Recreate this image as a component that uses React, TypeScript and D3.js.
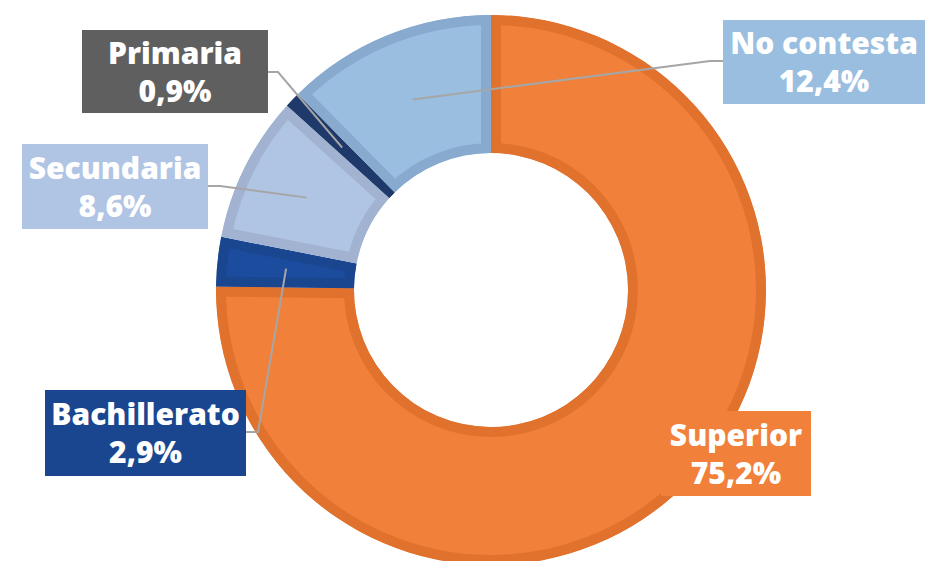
import React from "react";
import * as d3 from "d3";

const categories = ["Superior", "Bachillerato", "Secundaria", "Primaria", "No contesta"];
const values = [75.2, 2.9, 8.6, 0.9, 12.4];
const valueLabels = ["75,2%", "2,9%", "8,6%", "0,9%", "12,4%"];

const fills = ["#F0803A", "#1C4C9E", "#B0C4E4", "#1F3A6A", "#99BEE0"];
const borders = ["#E0722E", "#1A4690", "#A2B3D2", "#1F3A6A", "#88AACF"];
const boxFills = ["#F0803A", "#1A4690", "#B0C4E4", "#5F5F5F", "#99BEE0"];

// label box layout [x, y, w, h] and leader elbow [x, y]
const boxes: [number, number, number, number][] = [
  [661, 411, 150, 85],
  [45, 390, 201, 86],
  [22, 144, 186, 85],
  [82, 30, 186, 83],
  [723, 20, 202, 84],
];
const elbows: ([number, number] | null)[] = [null, [258, 432], [220, 186], [278, 72], [710, 61]];

export default function App() {
  const W = 947, H = 561;
  const cx = 491, cy = 290, R = 275, r = 137, bw = 10;
  const pie = d3.pie<number>().sort(null).startAngle(0).endAngle(2 * Math.PI);
  const arcs = pie(values);
  const arc = d3.arc<d3.PieArcDatum<number>>().innerRadius(r).outerRadius(R);
  const font = { fontFamily: "'Open Sans', sans-serif", fontWeight: 800, fontSize: 30 };
  return (
    <svg width={W} height={H} style={{ position: "absolute", left: 0, top: 0 }}>
      <defs>
        {arcs.map((a, i) => (
          <clipPath id={`clip${i}`} key={i}>
            <path d={arc(a) as string} />
          </clipPath>
        ))}
      </defs>
      <g transform={`translate(${cx},${cy})`}>
        {arcs.map((a, i) => (
          <path
            key={i}
            d={arc(a) as string}
            fill={fills[i]}
            stroke={borders[i]}
            strokeWidth={bw * 2}
            clipPath={`url(#clip${i})`}
          />
        ))}
      </g>
      {arcs.map((a, i) => {
        const e = elbows[i];
        if (!e) return null;
        const [mx, my] = arc.centroid(a);
        const [bx, , bwid] = boxes[i];
        const edgeX = e[0] > bx ? bx + bwid : bx;
        return (
          <polyline
            key={i}
            points={`${cx + mx},${cy + my} ${e[0]},${e[1]} ${edgeX},${e[1]}`}
            fill="none"
            stroke="#A6A6A6"
            strokeWidth={2}
          />
        );
      })}
      {categories.map((c, i) => {
        const [x, y, w, h] = boxes[i];
        return (
          <g key={c}>
            <rect x={x} y={y} width={w} height={h} fill={boxFills[i]} />
            <text x={x + w / 2} y={y + h / 2 - 8} textAnchor="middle" fill="#fff" {...font}>
              {c}
            </text>
            <text x={x + w / 2} y={y + h / 2 + 30} textAnchor="middle" fill="#fff" {...font}>
              {valueLabels[i]}
            </text>
          </g>
        );
      })}
    </svg>
  );
}
